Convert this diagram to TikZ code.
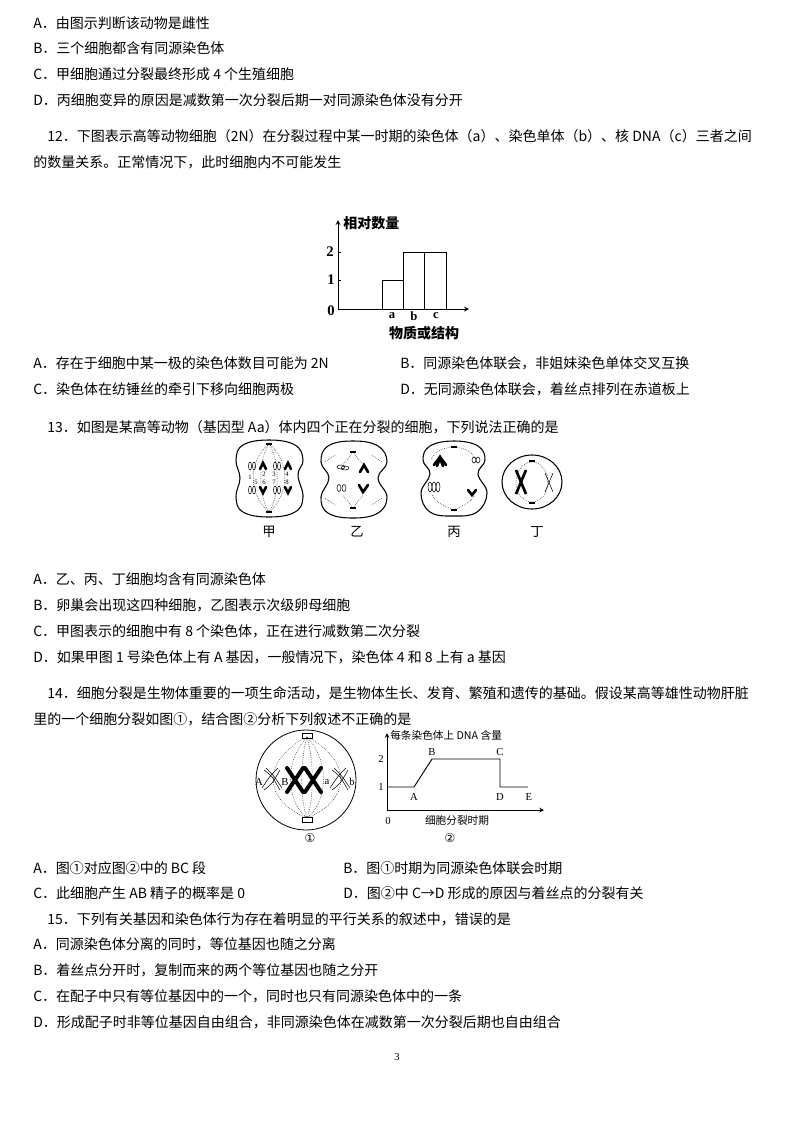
\documentclass[tikz,border=0pt]{standalone}
\usepackage{fontspec}
\newfontfamily\cjk{Noto Sans CJK SC}
\newfontfamily\dv{DejaVu Sans}
\setmainfont{Liberation Serif}
\begin{document}
\begin{tikzpicture}[x=0.75pt,y=-0.75pt,
 txt/.style={anchor=west,inner sep=0,font=\cjk\fontsize{10.5}{12}\selectfont},
 sm/.style={inner sep=0,font=\fontsize{8}{9}\selectfont},
 smc/.style={inner sep=0,font=\cjk\fontsize{8}{9}\selectfont},
 lab/.style={inner sep=0,font=\cjk\fontsize{10}{11}\selectfont},
 tiny/.style={inner sep=0,font=\fontsize{5}{5}\selectfont},
 cellline/.style={line width=0.8pt},
 spin/.style={densely dotted,line width=0.4pt},
 fc/.style={line width=2pt,line cap=round},
 hc/.style={line width=0.4pt}]
\useasboundingbox (0,0) rectangle (794,1122);
% text lines
\node[txt] (t1) at (33,23) {A．由图示判断该动物是雌性};
\node[txt] (t2) at (33,48) {B．三个细胞都含有同源染色体};
\node[txt] (t3) at (33,74) {C．甲细胞通过分裂最终形成 4 个生殖细胞};
\node[txt] (t4) at (33,100) {D．丙细胞变异的原因是减数第一次分裂后期一对同源染色体没有分开};
\node[txt] (t5) at (47,136) {12．下图表示高等动物细胞（2N）在分裂过程中某一时期的染色体（a）、染色单体（b）、核 DNA（c）三者之间};
\node[txt] (t6) at (33,162) {的数量关系。正常情况下，此时细胞内不可能发生};
\node[txt] (t7) at (33,363) {A．存在于细胞中某一极的染色体数目可能为 2N};
\node[txt] (t8) at (400,363) {B．同源染色体联会，非姐妹染色单体交叉互换};
\node[txt] (t9) at (33,389) {C．染色体在纺锤丝的牵引下移向细胞两极};
\node[txt] (t10) at (400,389) {D．无同源染色体联会，着丝点排列在赤道板上};
\node[txt] (t11) at (47,427) {13．如图是某高等动物（基因型 Aa）体内四个正在分裂的细胞，下列说法正确的是};
\node[txt] (t12) at (33,579) {A．乙、丙、丁细胞均含有同源染色体};
\node[txt] (t13) at (33,605) {B．卵巢会出现这四种细胞，乙图表示次级卵母细胞};
\node[txt] (t14) at (33,631) {C．甲图表示的细胞中有 8 个染色体，正在进行减数第二次分裂};
\node[txt] (t15) at (33,657) {D．如果甲图 1 号染色体上有 A 基因，一般情况下，染色体 4 和 8 上有 a 基因};
\node[txt] (t16) at (47,693) {14．细胞分裂是生物体重要的一项生命活动，是生物体生长、发育、繁殖和遗传的基础。假设某高等雄性动物肝脏};
\node[txt] (t17) at (33,719) {里的一个细胞分裂如图①，结合图②分析下列叙述不正确的是};
\node[txt] (t18) at (33,868) {A．图①对应图②中的 BC 段};
\node[txt] (t19) at (343,868) {B．图①时期为同源染色体联会时期};
\node[txt] (t20) at (33,893) {C．此细胞产生 AB 精子的概率是 0};
\node[txt] (t21) at (343,893) {D．图②中 C→D 形成的原因与着丝点的分裂有关};
\node[txt] (t22) at (47,919) {15．下列有关基因和染色体行为存在着明显的平行关系的叙述中，错误的是};
\node[txt] (t23) at (33,944) {A．同源染色体分离的同时，等位基因也随之分离};
\node[txt] (t24) at (33,970) {B．着丝点分开时，复制而来的两个等位基因也随之分开};
\node[txt] (t25) at (33,996) {C．在配子中只有等位基因中的一个，同时也只有同源染色体中的一条};
\node[txt] (t26) at (33,1022) {D．形成配子时非等位基因自由组合，非同源染色体在减数第一次分裂后期也自由组合};
\node[inner sep=0,font=\fontsize{8}{9}\selectfont] (pg) at (397,1057) {3};

% bar chart
\coordinate (o) at (338,309);
\coordinate (yt) at (338,220);
\coordinate (xe) at (469,309);
\draw[-stealth,line width=0.7pt] (o) -- (yt);
\draw[-stealth,line width=0.7pt] (o) -- (xe);
\draw[line width=0.7pt] (382,309) rectangle (403,280);
\draw[line width=0.7pt] (403,309) rectangle (424,252);
\draw[line width=0.7pt] (424,309) rectangle (446,252);
\draw (338,280) -- (341,280) (338,252) -- (341,252);
\node[inner sep=0,font=\cjk\bfseries\fontsize{10.5}{11}\selectfont,anchor=west] (yl) at (343,223) {相对数量};
\node[inner sep=0,font=\bfseries\fontsize{11}{12}\selectfont] (l0) at (331,311) {0};
\node[inner sep=0,font=\bfseries\fontsize{11}{12}\selectfont] (l1) at (331,280) {1};
\node[inner sep=0,font=\bfseries\fontsize{11}{12}\selectfont] (l2) at (330,252) {2};
\node[inner sep=0,font=\bfseries\fontsize{9.5}{10}\selectfont] (la) at (392,316) {a};
\node[inner sep=0,font=\bfseries\fontsize{9.5}{10}\selectfont] (lb) at (414,316) {b};
\node[inner sep=0,font=\bfseries\fontsize{9.5}{10}\selectfont] (lc) at (436,316) {c};
\node[inner sep=0,font=\cjk\bfseries\fontsize{10.5}{11}\selectfont] (xl) at (424,333) {物质或结构};

% cell jia
\draw[cellline] plot[smooth cycle,tension=0.7] coordinates {(269,440) (295,445) (303,460) (298,475) (303,497) (295,512) (269,517) (243,512) (236,497) (240,478) (236,460) (243,445)};
\draw[spin] (269,444) .. controls (248,460) and (248,495) .. (269,512);
\draw[spin] (269,444) .. controls (258,460) and (258,495) .. (269,512);
\draw[spin] (269,444) .. controls (280,460) and (280,495) .. (269,512);
\draw[spin] (269,444) .. controls (290,460) and (290,495) .. (269,512);
\draw[line width=1pt] (266,444)--(272,444) (266,512)--(272,512);
\foreach \x in {250,275}{\draw[hc] (\x,466) ellipse (1.5 and 4); \draw[hc] (\x+4,466) ellipse (1.5 and 4); \draw[hc] (\x,490) ellipse (1.5 and 4); \draw[hc] (\x+4,490) ellipse (1.5 and 4);}
\foreach \x in {263,288}{\draw[fc] (\x-3,469)--(\x,463)--(\x+3,469); \draw[fc] (\x-3,487)--(\x,493)--(\x+3,487);}
\node[tiny] (n1) at (250,477) {1};
\node[tiny] (n2) at (264,474) {2};
\node[tiny] (n3) at (274,474) {3};
\node[tiny] (n4) at (287,474) {4};
\node[tiny] (n5) at (256,482) {5};
\node[tiny] (n6) at (264,482) {6};
\node[tiny] (n7) at (274,482) {7};
\node[tiny] (n8) at (287,482) {8};
\node[lab] (jia) at (269,532) {甲};

% cell yi
\draw[cellline] plot[smooth cycle,tension=0.7] coordinates {(353,441) (378,446) (387,462) (378,478) (387,497) (378,513) (353,518) (328,513) (321,497) (329,478) (321,462) (328,446)};
\draw[line width=1pt] (350,452)--(356,452) (350,508)--(356,508);
\draw[spin] (353,452) -- (343,465) (353,452) -- (363,465) (353,508) -- (343,495) (353,508) -- (363,495);
\draw[spin] (335,455) -- (325,462) (372,455) -- (382,462) (335,505) -- (325,498) (372,505) -- (382,498);
\draw[hc] (341,467) ellipse (4 and 2); \draw[hc] (345,468) ellipse (4 and 2);
\draw[fc] (360,472)--(364,465)--(368,472);
\draw[hc] (339,488) ellipse (2 and 3.5); \draw[hc] (344,488) ellipse (2 and 3.5);
\draw[fc] (359,485)--(363,492)--(368,485);
\node[lab] (yi) at (357,532) {乙};

% cell bing
\draw[cellline] plot[smooth cycle,tension=0.7] coordinates {(454,441) (478,446) (485,460) (478,474) (487,493) (477,512) (454,516) (430,512) (421,493) (430,474) (423,460) (430,446)};
\draw[line width=1pt] (451,447)--(457,447) (451,510)--(457,510);
\draw[spin] (454,447) .. controls (440,448) and (435,452) .. (431,460);
\draw[spin] (454,447) .. controls (466,448) and (472,452) .. (475,458);
\draw[spin] (454,510) .. controls (440,505) and (435,500) .. (432,495);
\draw[spin] (454,510) .. controls (466,505) and (472,500) .. (475,496);
\draw[fc] (434,465)--(440,457)--(446,465); \draw[fc] (437,466)--(440,458)--(443,466);
\draw[hc] (474,460) ellipse (2 and 3); \draw[hc] (478,460) ellipse (2 and 3);
\draw[hc] (430,487) ellipse (2 and 5); \draw[hc] (434,487) ellipse (2 and 5); \draw[hc] (438,487) ellipse (2 and 5);
\draw[fc] (468,490)--(472,495)--(476,490);
\node[lab] (bing) at (454,532) {丙};

% cell ding
\draw[cellline] (532,482) ellipse (30 and 27);
\draw[line width=1pt] (529,461)--(535,461) (529,503)--(535,503);
\draw[spin] (532,482) ellipse (16 and 20);
\draw[line width=2pt] (516,470) -- (526,494) (526,470) -- (516,494);
\draw[hc] (545,473) -- (553,492) (553,473) -- (545,492);
\node[lab] (ding) at (537,532) {丁};

% fig 1 (Q14)
\draw[line width=0.6pt] (306,780) circle (50);
\coordinate (p1) at (307,737);
\coordinate (p2) at (307,818);
\draw[line width=0.6pt] (302,733) rectangle (312,738) (302,817) rectangle (312,822);
\foreach \dx in {-45,-22,-7,7,22,45}{\draw[spin] (p1) .. controls (307+\dx,760) and (307+\dx,800) .. (p2);}
\foreach \x in {272,340}{\draw[hc] (\x-8,770) .. controls (\x,776) .. (\x+8,790); \draw[hc] (\x-8,790) .. controls (\x,784) .. (\x+8,770); \draw[hc] (\x-6,768) .. controls (\x+2,776) .. (\x+10,788); \draw[hc] (\x+6,768) .. controls (\x-2,776) .. (\x-10,788);}
\foreach \x in {295,313}{\draw[line width=3pt,line cap=round] (\x-8,768)--(\x+8,792) (\x+8,768)--(\x-8,792);}
\node[sm] (gA) at (259,782) {A};
\node[sm] (gB) at (285,782) {B};
\node[sm] (ga) at (327,782) {a};
\node[sm] (gb) at (352,782) {b};
\node[inner sep=0,font=\dv\fontsize{9}{10}\selectfont] (c1) at (310,838) {①};

% graph 2
\coordinate (g0) at (387,810);
\draw[-stealth,line width=0.6pt] (g0) -- (387,733);
\draw[-stealth,line width=0.6pt] (g0) -- (544,810);
\coordinate (gpA) at (414,787);
\coordinate (gpB) at (432,759);
\coordinate (gpC) at (500,759);
\coordinate (gpD) at (500,787);
\coordinate (gpE) at (528,787);
\draw[line width=0.7pt] (387,787) -- (gpA) -- (gpB) -- (gpC) -- (gpD) -- (gpE);
\node[sm] (q2) at (381,759) {2};
\node[sm] (q1) at (381,787) {1};
\node[sm] (q0) at (388,821) {0};
\node[sm] (qA) at (414,797) {A};
\node[sm] (qB) at (432,752) {B};
\node[sm] (qC) at (500,752) {C};
\node[sm] (qD) at (500,797) {D};
\node[sm] (qE) at (529,797) {E};
\node[smc,anchor=west] (yl2) at (390,735) {每条染色体上 DNA 含量};
\node[smc] (xl2) at (457,820) {细胞分裂时期};
\node[inner sep=0,font=\dv\fontsize{9}{10}\selectfont] (c2) at (450,838) {②};
\end{tikzpicture}
\end{document}
